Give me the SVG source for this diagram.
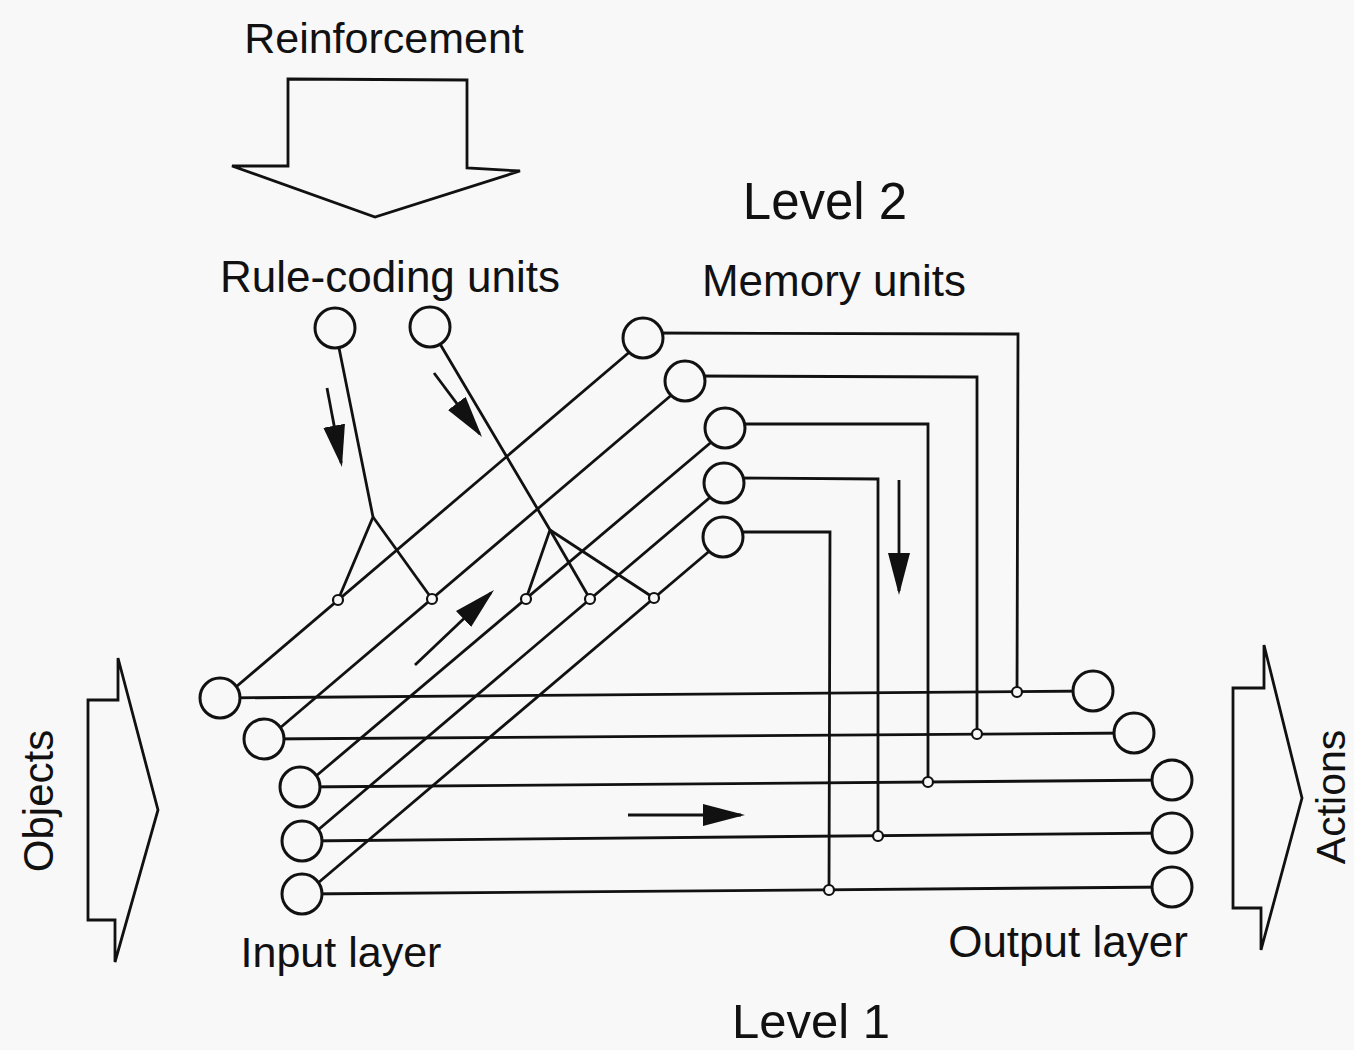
<svg xmlns="http://www.w3.org/2000/svg" width="1354" height="1050" viewBox="0 0 1354 1050">
  <style>
    .lbl { font-family: "Liberation Sans", Arial, sans-serif; fill: #111; }
    .ln { stroke: #111; stroke-width: 2.8; fill: none; stroke-linejoin: miter; }
    .big { stroke: #111; stroke-width: 2.8; fill: #f8f8f8; stroke-linejoin: miter; }
    .unit { stroke: #111; stroke-width: 3; fill: #f8f8f8; }
    .jn { stroke: #111; stroke-width: 2.2; fill: #f8f8f8; }
    .flow { stroke: #111; stroke-width: 2.8; fill: none; marker-end: url(#head); }
  </style>
  <defs>
    <marker id="head" viewBox="0 0 42 22" markerWidth="42" markerHeight="22" markerUnits="userSpaceOnUse" refX="38" refY="11" orient="auto">
      <path d="M0,0 L42,11 L0,22 Z" fill="#111"/>
    </marker>
  </defs>
  <rect width="1354" height="1050" fill="#f8f8f8"/>

  <!-- big arrows -->
  <g id="reinforcement-arrow">
    <polygon class="big" points="288,79 467,80 467,168 520,171 375,217 232,166 288,166"/>
    <text class="lbl" x="384" y="53" font-size="43" text-anchor="middle">Reinforcement</text>
  </g>
  <g id="objects-arrow">
    <polygon class="big" points="88,700 118,700 118,658 158,810 115,962 115,920 88,920"/>
    <text class="lbl" font-size="42" text-anchor="middle" transform="translate(53,801) rotate(-90)">Objects</text>
  </g>
  <g id="actions-arrow">
    <polygon class="big" points="1233,688 1264,688 1264,645 1302,798 1261,950 1261,908 1233,908"/>
    <text class="lbl" font-size="41" text-anchor="middle" transform="translate(1345,797) rotate(-90)">Actions</text>
  </g>

  <!-- labels -->
  <g id="labels">
    <text class="lbl" x="825" y="219" font-size="51" text-anchor="middle">Level 2</text>
    <text class="lbl" x="390" y="292" font-size="44" text-anchor="middle">Rule-coding units</text>
    <text class="lbl" x="834" y="296" font-size="44" text-anchor="middle">Memory units</text>
    <text class="lbl" x="341" y="967" font-size="43" text-anchor="middle">Input layer</text>
    <text class="lbl" x="1068" y="957" font-size="44" text-anchor="middle">Output layer</text>
    <text class="lbl" x="811" y="1038" font-size="49" text-anchor="middle">Level 1</text>
  </g>

  <!-- connectors -->
  <g id="connectors">
    <!-- input to memory diagonals -->
    <line class="ln" x1="223" y1="698" x2="646" y2="338"/>
    <line class="ln" x1="267" y1="739" x2="688" y2="381"/>
    <line class="ln" x1="303" y1="787" x2="728" y2="428"/>
    <line class="ln" x1="305" y1="841" x2="727" y2="483"/>
    <line class="ln" x1="305" y1="894" x2="726" y2="537"/>
    <!-- input to output horizontals -->
    <line class="ln" x1="220" y1="698" x2="1093" y2="691"/>
    <line class="ln" x1="264" y1="739" x2="1134" y2="733"/>
    <line class="ln" x1="300" y1="787" x2="1172" y2="780"/>
    <line class="ln" x1="302" y1="841" x2="1172" y2="833"/>
    <line class="ln" x1="302" y1="894" x2="1172" y2="887"/>
    <!-- memory to output -->
    <polyline class="ln" points="650,333 1018,334 1017,692"/>
    <polyline class="ln" points="692,376 977,377 977,734"/>
    <polyline class="ln" points="732,424 928,424 928,782"/>
    <polyline class="ln" points="731,478 878,479 878,836"/>
    <polyline class="ln" points="730,532 830,532 829,890"/>
    <!-- rule-coding units to synapses -->
    <polyline class="ln" points="335,328 373,517 338,600"/>
    <line class="ln" x1="373" y1="517" x2="432" y2="599"/>
    <polyline class="ln" points="430,327 550,530 526,599"/>
    <line class="ln" x1="550" y1="530" x2="590" y2="599"/>
    <line class="ln" x1="550" y1="530" x2="654" y2="598"/>
    <!-- flow arrows -->
    <line class="flow" x1="327" y1="388" x2="341.2" y2="463.1"/>
    <line class="flow" x1="434" y1="373" x2="479.6" y2="433.8"/>
    <line class="flow" x1="415" y1="665" x2="491.1" y2="592.8"/>
    <line class="flow" x1="899" y1="480" x2="899" y2="591"/>
    <line class="flow" x1="628" y1="815" x2="741" y2="815"/>
    <!-- synapse junctions -->
    <circle class="jn" cx="338" cy="600" r="5"/>
    <circle class="jn" cx="432" cy="599" r="5"/>
    <circle class="jn" cx="526" cy="599" r="5"/>
    <circle class="jn" cx="590" cy="599" r="5"/>
    <circle class="jn" cx="654" cy="598" r="5"/>
    <circle class="jn" cx="1017" cy="692" r="5"/>
    <circle class="jn" cx="977" cy="734" r="5"/>
    <circle class="jn" cx="928" cy="782" r="5"/>
    <circle class="jn" cx="878" cy="836" r="5"/>
    <circle class="jn" cx="829" cy="890" r="5"/>
  </g>

  <!-- nodes -->
  <g id="rule-unit-1"><circle class="unit" cx="335" cy="328" r="20"/></g>
  <g id="rule-unit-2"><circle class="unit" cx="430" cy="327" r="20"/></g>
  <g id="memory-unit-1"><circle class="unit" cx="643" cy="338" r="20"/></g>
  <g id="memory-unit-2"><circle class="unit" cx="685" cy="381" r="20"/></g>
  <g id="memory-unit-3"><circle class="unit" cx="725" cy="428" r="20"/></g>
  <g id="memory-unit-4"><circle class="unit" cx="724" cy="483" r="20"/></g>
  <g id="memory-unit-5"><circle class="unit" cx="723" cy="537" r="20"/></g>
  <g id="input-unit-1"><circle class="unit" cx="220" cy="698" r="20"/></g>
  <g id="input-unit-2"><circle class="unit" cx="264" cy="739" r="20"/></g>
  <g id="input-unit-3"><circle class="unit" cx="300" cy="787" r="20"/></g>
  <g id="input-unit-4"><circle class="unit" cx="302" cy="841" r="20"/></g>
  <g id="input-unit-5"><circle class="unit" cx="302" cy="894" r="20"/></g>
  <g id="output-unit-1"><circle class="unit" cx="1093" cy="691" r="20"/></g>
  <g id="output-unit-2"><circle class="unit" cx="1134" cy="733" r="20"/></g>
  <g id="output-unit-3"><circle class="unit" cx="1172" cy="780" r="20"/></g>
  <g id="output-unit-4"><circle class="unit" cx="1172" cy="833" r="20"/></g>
  <g id="output-unit-5"><circle class="unit" cx="1172" cy="887" r="20"/></g>
</svg>
